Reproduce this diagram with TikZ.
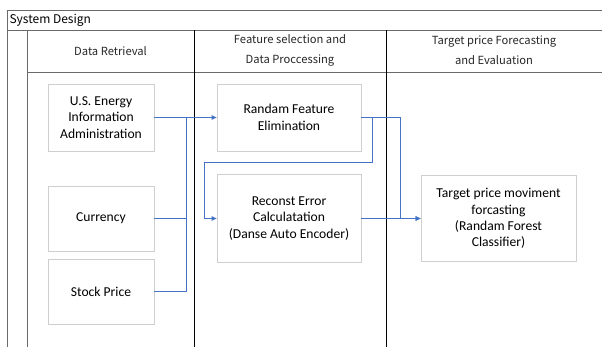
\documentclass[tikz,border=0pt]{standalone}
\usepackage{fontspec}
\setmainfont{Carlito}
\newfontfamily\hdfont{Noto Sans CJK JP}
\usetikzlibrary{arrows.meta}
\definecolor{flowblue}{HTML}{4472C4}
\definecolor{framegray}{HTML}{6A6A6A}
\definecolor{boxgray}{HTML}{CFCFCF}
\tikzset{
  box/.style={draw=boxgray, line width=0.8pt, fill=white, align=center,
    minimum width=106pt, font=\fontsize{13.6}{16.4}\selectfont},
  flow/.style={draw=flowblue, line width=0.9pt},
  hd/.style={align=center, font=\hdfont\fontsize{11.2}{20}\selectfont, text=black!85},
}

\begin{document}
\begin{tikzpicture}[x=1pt, y=-1pt]
\useasboundingbox (0,0) rectangle (602,347);
%% 바깥 틀과 제목 줄
\draw[framegray, line width=0.9pt] (602,10) -- (7,10) -- (7,347);
\draw[framegray, line width=0.9pt] (7,30) -- (602,30);
\draw[framegray, line width=0.9pt] (27,30) -- (27,347);
\draw[framegray, line width=0.9pt] (27,72) -- (602,72);
%% 열 구분선
\draw[black, line width=0.8pt] (194,30) -- (194,347);
\draw[black, line width=0.8pt] (386,30) -- (386,347);
\node[anchor=west, font=\hdfont\fontsize{12}{14}\selectfont] (title) at (6,20) {System Design};
\node[hd] (colA) at (110.5,51) {Data Retrieval};
\node[hd] (colB) at (290,50.5) {Feature selection and\\Data Proccessing};
\node[hd] (colC) at (494,50.5) {Target price Forecasting\\and Evaluation};

%% 상자들
\node[box, minimum height=67pt] (useia) at (101,117.5) {U.S. Energy\\Information\\Administration};
\node[box, minimum height=65pt] (currency) at (101,218.5) {Currency};
\node[box, minimum height=65pt] (stock) at (101,291.5) {Stock Price};
\node[box, minimum width=144pt, minimum height=67pt] (rfe) at (289,117.5) {Randam Feature\\Elimination};
\node[box, minimum width=144pt, minimum height=88pt] (recon) at (289,218.5) {Reconst Error\\Calculatation\\(Danse Auto Encoder)};
\node[box, minimum width=155pt, minimum height=86pt] (target) at (498.5,218.5) {Target price moviment\\forcasting\\(Randam Forest\\Classifier)};

%% 연결선
\coordinate (merge) at (186,117.5);
\coordinate (back) at (204,162);
\draw[flow, -{Triangle[length=5pt, width=4.5pt]}] (useia.east) -- (rfe.west);
\draw[flow] (stock.east) -| (merge);
\draw[flow] (currency.east) -- (currency.east -| merge);
\draw[flow, -{Triangle[length=5pt, width=4.5pt]}] (rfe.east) -- ++(11,0) |- (back) |- (recon.west);
\draw[flow, -{Triangle[length=5pt, width=4.5pt]}] (rfe.east) -- ++(39,0) |- (target.west);
\draw[flow, -{Triangle[length=5pt, width=4.5pt]}] (recon.east) -- (target.west);
\end{tikzpicture}
\end{document}
